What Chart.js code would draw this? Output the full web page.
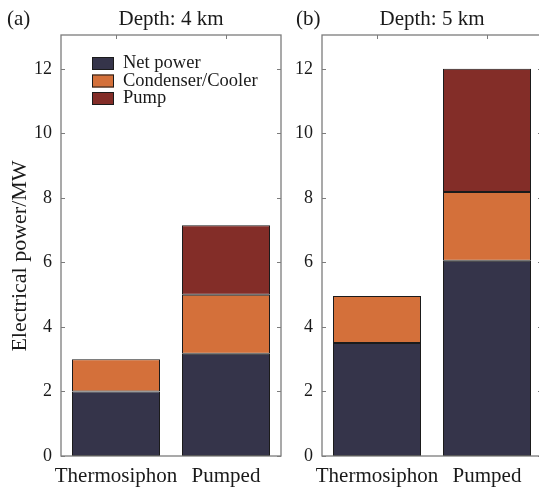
<!DOCTYPE html>
<html><head><meta charset="utf-8">
<script src="https://cdn.jsdelivr.net/npm/chart.js@4/dist/chart.umd.min.js"></script>
<style>
html,body{margin:0;padding:0;background:#fff;overflow:hidden;width:539px;height:491px;position:relative;}
#wa{position:absolute;left:0;top:0;width:282px;height:491px;}
#wb{position:absolute;left:282px;top:0;width:262px;height:491px;}
</style></head><body>
<div id="wa"><canvas id="ca"></canvas></div>
<div id="wb"><canvas id="cb"></canvas></div>
<script>
const categories = ['Thermosiphon', 'Pumped'];
const seriesNames = ['Net power', 'Condenser/Cooler', 'Pump'];
const seriesColors = ['#35344a', '#d4703a', '#832d28'];
// Depth 4 km
const net4 = [2.0, 3.17];
const cond4 = [1.0, 1.83];
const pump4 = [null, 2.15];
// Depth 5 km
const net5 = [3.5, 6.05];
const cond5 = [1.46, 2.13];
const pump5 = [null, 3.82];
const yTickValues = [0, 2, 4, 6, 8, 10, 12];
const yMax = 13.05;
const yTitleText = 'Electrical power/MW';

const SERIF = '"Liberation Serif", "Times New Roman", serif';
const FRAME = '#7c7c7c';

function makeDatasets(a, b, c) {
  return [a, b, c].map((d, i) => ({
    label: seriesNames[i],
    data: d,
    backgroundColor: seriesColors[i],
    borderColor: '#1b1b1b',
    borderWidth: 1,
    borderSkipped: false,
    barPercentage: 0.8,
    categoryPercentage: 1.0
  }));
}

const framePlugin = {
  id: 'frame',
  afterDatasetsDraw(chart) {
    const ctx = chart.ctx, a = chart.chartArea;
    const y = chart.scales.y, x = chart.scales.x;
    ctx.save();
    ctx.strokeStyle = FRAME;
    ctx.lineWidth = 1.3;
    ctx.strokeRect(a.left, a.top, a.right - a.left, a.bottom - a.top);
    ctx.lineWidth = 1;
    ctx.beginPath();
    yTickValues.forEach(v => {
      const py = Math.round(y.getPixelForValue(v)) + 0.5;
      ctx.moveTo(a.left, py); ctx.lineTo(a.left + 4, py);
      ctx.moveTo(a.right, py); ctx.lineTo(a.right - 4, py);
    });
    categories.forEach((c, i) => {
      const px = Math.round(x.getPixelForValue(i)) + 0.5;
      ctx.moveTo(px, a.top); ctx.lineTo(px, a.top + 4);
    });
    ctx.stroke();
    ctx.restore();
  }
};

const textPlugin = {
  id: 'texts',
  afterDraw(chart, args, opts) {
    const ctx = chart.ctx, a = chart.chartArea;
    ctx.save();
    ctx.fillStyle = '#1a1a1a';
    ctx.font = '21px ' + SERIF;
    ctx.textBaseline = 'middle';
    ctx.textAlign = 'left';
    ctx.fillText(opts.tag, opts.tagX, 19);
    ctx.textAlign = 'center';
    ctx.fillText(opts.title, (a.left + a.right) / 2, 19);
    if (opts.yTitle) {
      ctx.save();
      ctx.translate(20, 256);
      ctx.rotate(-Math.PI / 2);
      ctx.font = '22px ' + SERIF;
      ctx.fillText(yTitleText, 0, 0);
      ctx.restore();
    }
    if (opts.legend) {
      ctx.font = '18.5px ' + SERIF;
      ctx.textAlign = 'left';
      chart.data.datasets.forEach((ds, i) => {
        const bx = a.left + 31, by = a.top + 22 + i * 17.5;
        ctx.fillStyle = ds.backgroundColor;
        ctx.fillRect(bx, by, 22, 13);
        ctx.strokeStyle = '#1b1b1b';
        ctx.lineWidth = 1;
        ctx.strokeRect(bx + 0.5, by + 0.5, 21, 12);
        ctx.fillStyle = '#1a1a1a';
        ctx.fillText(ds.label, bx + 31, by + 6.5);
      });
    }
    ctx.restore();
  }
};

function makeChart(id, datasets, yWidth, padRight, opts) {
  return new Chart(document.getElementById(id), {
    type: 'bar',
    data: { labels: categories, datasets },
    plugins: [framePlugin, textPlugin],
    options: {
      responsive: true,
      maintainAspectRatio: false,
      animation: false,
      layout: { padding: { top: 35, right: padRight, left: 0, bottom: 0 } },
      plugins: {
        legend: { display: false },
        tooltip: { enabled: false },
        title: { display: false },
        texts: opts
      },
      scales: {
        x: {
          stacked: true,
          grid: { display: false, drawTicks: false },
          border: { display: false },
          ticks: { color: '#1a1a1a', font: { family: SERIF, size: 21 }, padding: 8, maxRotation: 0, autoSkip: false },
          afterFit(s) { s.height = 35; }
        },
        y: {
          stacked: true,
          min: 0,
          max: yMax,
          grid: { display: false, drawTicks: false },
          border: { display: false },
          afterBuildTicks(s) { s.ticks = yTickValues.map(v => ({ value: v })); },
          ticks: { color: '#1a1a1a', font: { family: SERIF, size: 18 }, padding: 9 },
          afterFit(s) { s.width = yWidth; }
        }
      }
    }
  });
}

makeChart('ca', makeDatasets(net4, cond4, pump4), 61, 1,
  { tag: '(a)', tagX: 7, title: 'Depth: 4 km', legend: true, yTitle: true });
makeChart('cb', makeDatasets(net5, cond5, pump5), 40, 2,
  { tag: '(b)', tagX: 14, title: 'Depth: 5 km', legend: false, yTitle: false });
</script>
</body></html>
